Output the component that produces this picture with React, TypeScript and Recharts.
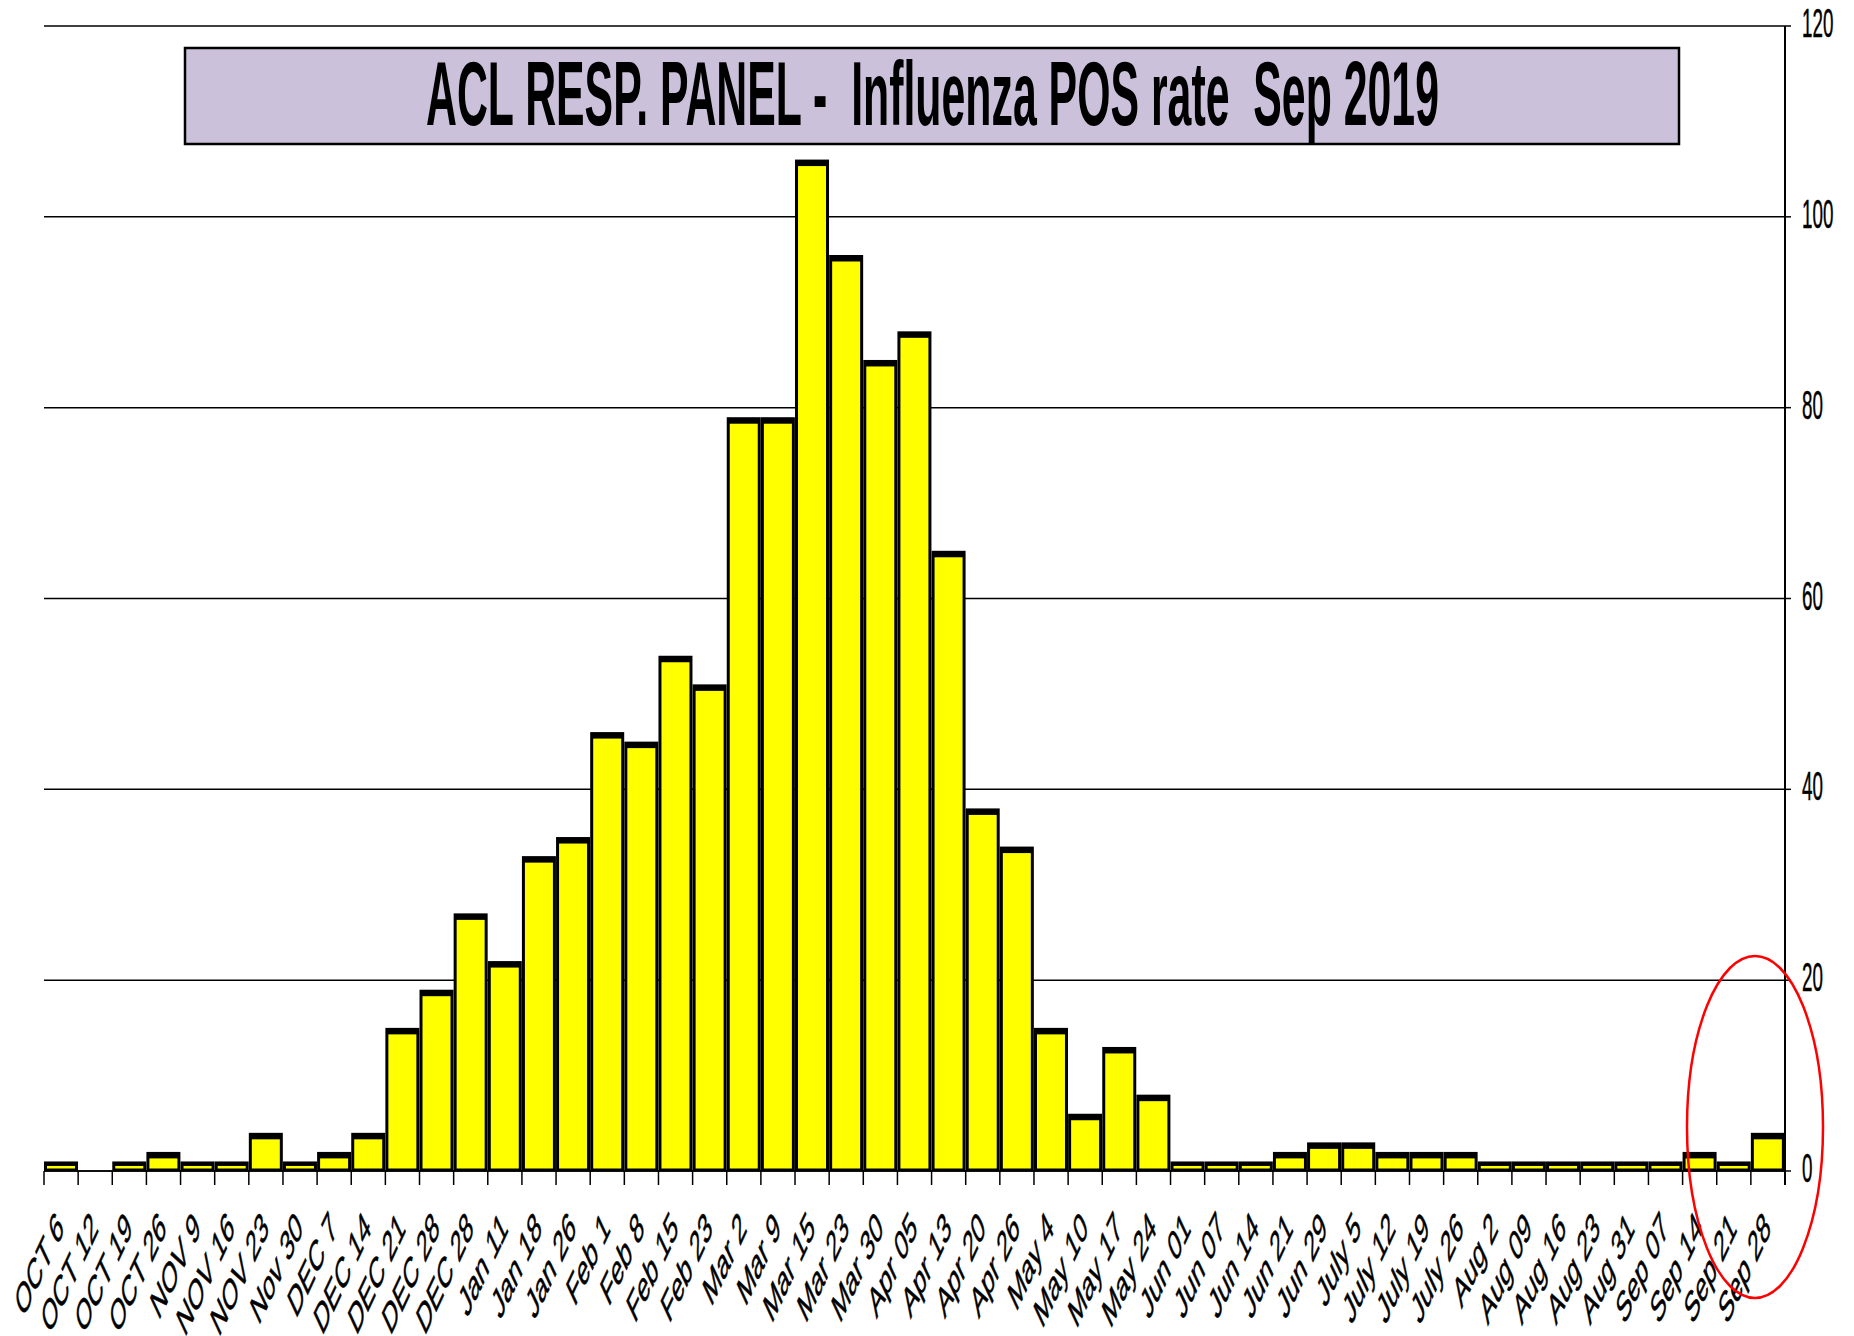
import React from 'react';
import { BarChart, Bar, XAxis, YAxis, CartesianGrid } from 'recharts';

const categories = [
  'OCT 6', 'OCT 12', 'OCT 19', 'OCT 26', 'NOV 9', 'NOV 16', 'NOV 23', 'Nov 30', 'DEC 7', 'DEC 14',
  'DEC 21', 'DEC 28', 'DEC 28', 'Jan 11', 'Jan 18', 'Jan 26', 'Feb 1', 'Feb 8', 'Feb 15', 'Feb 23',
  'Mar 2', 'Mar 9', 'Mar 15', 'Mar 23', 'Mar 30', 'Apr 05', 'Apr 13', 'Apr 20', 'Apr 26', 'May 4',
  'May 10', 'May 17', 'May 24', 'Jun 01', 'Jun 07', 'Jun 14', 'Jun 21', 'Jun 29', 'July 5', 'July 12',
  'July 19', 'July 26', 'Aug 2', 'Aug 09', 'Aug 16', 'Aug 23', 'Aug 31', 'Sep 07', 'Sep 14', 'Sep 21',
  'Sep 28',
];

const positives = [
  1, 0, 1, 2, 1, 1, 4, 1, 2, 4,
  15, 19, 27, 22, 33, 35, 46, 45, 54, 51,
  79, 79, 106, 96, 85, 88, 65, 38, 34, 15,
  6, 13, 8, 1, 1, 1, 2, 3, 3, 2,
  2, 2, 1, 1, 1, 1, 1, 1, 2, 1,
  4,
];

const yTicks = [0, 20, 40, 60, 80, 100, 120];
const titleText = 'ACL RESP. PANEL -  Influenza POS rate  Sep 2019';

const data = categories.map((c, i) => ({ week: c, value: positives[i] }));

const W = 1854;
const H = 1336;
const MARGIN = { top: 26, right: 0, left: 44, bottom: 0 };
const Y_AXIS_W = 69;
const X_AXIS_H = 165;
const PLOT_W = W - MARGIN.left - MARGIN.right - Y_AXIS_W;
const BAND = PLOT_W / categories.length;
const SX = 0.47;
const FONT = '"Liberation Sans", Arial, sans-serif';

const XTick = (props: any) => {
  const { x, y, payload } = props;
  const index = props.index ?? payload?.index ?? 0;
  const half = BAND / 2;
  const last = index === categories.length - 1;
  return (
    <g>
      <line x1={x - half} x2={x - half} y1={y} y2={y + 14} stroke="#000" strokeWidth={1.5} />
      {last && <line x1={x + half} x2={x + half} y1={y} y2={y + 14} stroke="#000" strokeWidth={2} />}
      <text
        transform={`translate(${x + 4},${y + 59}) scale(${SX},1) rotate(-45)`}
        textAnchor="end"
        fontSize={43}
        fontFamily={FONT}
        fill="#000"
        stroke="#000"
        strokeWidth={0.6}
      >
        {payload.value}
      </text>
    </g>
  );
};

const YTick = (props: any) => {
  const { x, y, payload } = props;
  return (
    <text
      transform={`translate(${x + 11},${y + 11}) scale(${SX},1)`}
      textAnchor="start"
      fontSize={40}
      fontFamily={FONT}
      fill="#000"
      stroke="#000"
      strokeWidth={0.5}
    >
      {payload.value}
    </text>
  );
};

const BarShape = (props: any) => {
  const { x, y, width, height } = props;
  if (!height || height <= 0) return null;
  const top = height < 15 ? 4.5 : 6.5;
  const side = 3;
  const bottom = 2.5;
  const innerH = height - top - bottom;
  return (
    <g>
      <rect x={x} y={y} width={width} height={height} fill="#000" />
      {innerH > 0 && (
        <rect x={x + side} y={y + top} width={width - 2 * side} height={innerH} fill="#FFFF00" />
      )}
    </g>
  );
};

export default function App() {
  return (
    <div style={{ position: 'absolute', left: 0, top: 0, width: W, height: H, background: '#fff' }}>
      <BarChart
        width={W}
        height={H}
        data={data}
        margin={MARGIN}
        barCategoryGap={0}
        barGap={0}
      >
        <CartesianGrid vertical={false} stroke="#000" strokeWidth={1.5} />
        <XAxis
          dataKey="week"
          interval={0}
          height={X_AXIS_H}
          tickLine={false}
          tickSize={0}
          tickMargin={0}
          axisLine={{ stroke: '#000', strokeWidth: 1.5 }}
          tick={<XTick />}
        />
        <YAxis
          orientation="right"
          width={Y_AXIS_W}
          domain={[0, 120]}
          ticks={yTicks}
          interval={0}
          tickSize={6}
          tickMargin={0}
          tickLine={{ stroke: '#000', strokeWidth: 1.5 }}
          axisLine={{ stroke: '#000', strokeWidth: 2 }}
          tick={<YTick />}
        />
        <Bar dataKey="value" isAnimationActive={false} shape={<BarShape />} />
      </BarChart>
      <svg
        width={W}
        height={H}
        style={{ position: 'absolute', left: 0, top: 0, pointerEvents: 'none' }}
      >
        <rect x={185} y={48} width={1494} height={96} fill="#CCC1DA" stroke="#000" strokeWidth={2.5} />
        <text
          x={426}
          y={125}
          fontSize={90}
          fontWeight="bold"
          fontFamily={FONT}
          fill="#000"
          textLength={1013}
          lengthAdjust="spacingAndGlyphs"
          style={{ whiteSpace: 'pre' }}
        >
          {titleText}
        </text>
        <ellipse cx={1755} cy={1127} rx={68} ry={171} fill="none" stroke="#FF0000" strokeWidth={2.5} />
      </svg>
    </div>
  );
}
